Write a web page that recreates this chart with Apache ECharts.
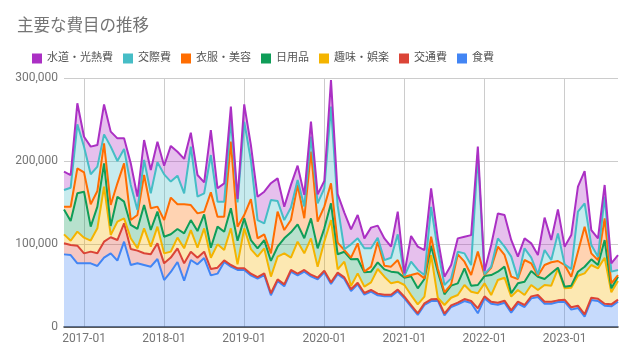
<!DOCTYPE html>
<html><head><meta charset="utf-8">
<script src="https://cdn.jsdelivr.net/npm/echarts@6/dist/echarts.min.js"></script>
<style>html,body{margin:0;padding:0;background:#fff}#c{width:634px;height:360px}</style>
</head><body><div id="c"></div>
<script>
const months = [
 '2016-10','2016-11','2016-12',
 '2017-01','2017-02','2017-03','2017-04','2017-05','2017-06','2017-07','2017-08','2017-09','2017-10','2017-11','2017-12',
 '2018-01','2018-02','2018-03','2018-04','2018-05','2018-06','2018-07','2018-08','2018-09','2018-10','2018-11','2018-12',
 '2019-01','2019-02','2019-03','2019-04','2019-05','2019-06','2019-07','2019-08','2019-09','2019-10','2019-11','2019-12',
 '2020-01','2020-02','2020-03','2020-04','2020-05','2020-06','2020-07','2020-08','2020-09','2020-10','2020-11','2020-12',
 '2021-01','2021-02','2021-03','2021-04','2021-05','2021-06','2021-07','2021-08','2021-09','2021-10','2021-11','2021-12',
 '2022-01','2022-02','2022-03','2022-04','2022-05','2022-06','2022-07','2022-08','2022-09','2022-10','2022-11','2022-12',
 '2023-01','2023-02','2023-03','2023-04','2023-05','2023-06','2023-07','2023-08','2023-09'
];
const yTicks = [0, 100000, 200000, 300000];

const food = [
 87500, 86700, 76700, 76700, 76700, 73500, 83500, 88800, 79900, 102800, 74700, 76700,
 74700, 72700, 81900, 56600, 66300, 78300, 55800, 80700, 75500, 83100, 62200, 64300,
 78300, 72700, 68700, 68700, 62200, 58200, 62600, 38200, 55400, 49000, 66700, 62200,
 66700, 61000, 57400, 65900, 51800, 63500, 57800, 43400, 51400, 39000, 42600, 38200,
 36900, 36900, 43000, 34500, 24500, 14500, 26500, 31300, 31700, 14100, 24100, 27300,
 31300, 28900, 16500, 34500, 28100, 26900, 29300, 17300, 28100, 24100, 34500, 36100,
 28100, 28100, 30100, 30500, 20900, 22900, 12400, 32500, 31300, 25700, 24900, 30500];
const transport = [
 13300, 12000, 21300, 12000, 14100, 15300, 19300, 19300, 24900, 22100, 19300, 15300,
 14100, 14900, 18900, 20100, 17300, 16500, 20900, 10000, 8000, 7600, 7600, 7200,
 2000, 2000, 2000, 2000, 2000, 2000, 2000, 2400, 2000, 2400, 2000, 2000,
 2000, 2000, 2000, 2000, 2000, 2000, 2000, 2000, 2000, 2000, 2000, 2000,
 2000, 2000, 2000, 2000, 2000, 2000, 2000, 2000, 2000, 2000, 2000, 2000,
 2400, 2400, 6000, 2400, 2400, 2400, 2400, 2800, 2400, 2400, 2400, 2400,
 2400, 2400, 2000, 2400, 2800, 2800, 2800, 2800, 2800, 2400, 2400, 2400];
const hobby = [
 10800, 5200, 16900, 18900, 13300, 30100, 66300, 2800, 22100, 6000, 12900, 2800,
 30100, 9200, 20100, 12000, 7200, 12900, 18100, 26100, 12000, 28100, 13700, 28100,
 12400, 44200, 4800, 48200, 29700, 24500, 30100, 20100, 27300, 37300, 14900, 38600,
 20100, 43800, 13300, 34900, 75100, 4000, 18900, 4000, 11200, 7600, 9200, 29700,
 21700, 13700, 9600, 14100, 12000, 10800, 8000, 53400, 1600, 10400, 9200, 9200,
 16900, 11200, 18100, 15700, 8000, 27300, 27700, 16500, 14100, 12000, 13700, 6000,
 20100, 19300, 37800, 13700, 23700, 36100, 49400, 39400, 36500, 55400, 14500, 22500];
const daily = [
 30100, 23700, 46200, 55400, 16900, 26100, 28100, 10800, 30100, 20100, 16100, 23300,
 28100, 20100, 18100, 20100, 20900, 10400, 18100, 12000, 20100, 16900, 12000, 21300,
 22100, 24100, 28500, 12000, 10800, 10000, 10000, 18900, 12000, 18100, 30500, 20900,
 18100, 24100, 22100, 16100, 20100, 18100, 12000, 32100, 17300, 17300, 12900, 8000,
 8800, 14100, 11200, 8800, 22500, 19300, 21300, 11200, 31300, 12900, 14500, 14100,
 20100, 7200, 10000, 8800, 24100, 10000, 13300, 4000, 8000, 16100, 16900, 16100,
 7200, 14900, 1600, 2000, 2400, 4800, 8000, 6800, 4000, 21300, 4800, 5200];
const clothes = [
 3200, 17300, 30100, 23300, 26900, 18900, 24100, 25300, 16100, 46200, 6000, 16900,
 36100, 26100, 6000, 20100, 44200, 29700, 34900, 18100, 21300, 3200, 66700, 12000,
 18100, 80300, 16900, 4000, 49400, 12000, 6800, 9200, 42200, 10000, 14900, 47400,
 24100, 80300, 32100, 26100, 24100, 14100, 2000, 2000, 18900, 800, 6000, 24900,
 4400, 6000, 14900, 1200, 1600, 18100, 800, 10800, 4000, 2400, 1600, 34900,
 8000, 12900, 40200, 1200, 8800, 30100, 14100, 20100, 5200, 26100, 9200, 1200,
 16900, 13300, 8000, 26100, 10800, 24100, 48200, 7200, 6000, 26100, 6000, 2000];
const social = [
 20100, 22900, 53000, 30900, 36100, 29300, 10800, 70300, 26900, 17300, 42200, 6000,
 18100, 18100, 53400, 55000, 19300, 34500, 13300, 70300, 20100, 22100, 45000, 18100,
 18100, 26100, 29300, 112400, 47000, 22100, 13300, 64300, 12900, 12000, 14900, 6000,
 14100, 18100, 22100, 22100, 92400, 44200, 1000, 16100, 6000, 28100, 22100, 4800,
 6800, 10800, 30900, 1200, 16100, 4000, 4000, 36100, 22100, 8800, 7200, 3200,
 10000, 12000, 116500, 800, 1200, 10000, 10000, 24100, 800, 14100, 6800, 1600,
 18100, 2800, 33300, 800, 9200, 48200, 28100, 10000, 4000, 26100, 14100, 6000];
const utilities = [
 22100, 15300, 25300, 12000, 33300, 26100, 36100, 18100, 27300, 12900, 26100, 16100,
 24100, 28100, 24900, 10400, 43000, 28900, 41400, 16900, 26100, 13300, 30100, 16100,
 22100, 16100, 4000, 20900, 18100, 28100, 38200, 20100, 27300, 16100, 27300, 17300,
 14100, 18100, 10800, 8800, 32100, 14100, 44200, 18100, 28100, 12000, 24900, 14500,
 26100, 13300, 27300, 2800, 30900, 28100, 30100, 22100, 14100, 10000, 16100, 16100,
 20100, 36100, 10000, 4000, 26100, 30100, 38200, 20100, 26100, 12000, 17300, 23300,
 39000, 24100, 28900, 21300, 41000, 30100, 39000, 18100, 22100, 14100, 10000, 18100];

const FONT = 'Roboto, Arial, "Noto Sans CJK JP", sans-serif';
const seriesDefs = [
  {name: '食費', data: food, color: '#4285F4'},
  {name: '交通費', data: transport, color: '#DB4437'},
  {name: '趣味・娯楽', data: hobby, color: '#F4B400'},
  {name: '日用品', data: daily, color: '#0F9D58'},
  {name: '衣服・美容', data: clothes, color: '#FF6D01'},
  {name: '交際費', data: social, color: '#46BDC6'},
  {name: '水道・光熱費', data: utilities, color: '#AB30C4'}
];
const isJan = (i, v) => String(v).endsWith('-01');

const chart = echarts.init(document.getElementById('c'), null, {renderer: 'canvas'});
chart.setOption({
  animation: false,
  textStyle: {fontFamily: FONT},
  title: {
    text: '主要な費目の推移', left: 12, top: 14,
    textStyle: {fontSize: 16.5, fontWeight: 'normal', color: '#757575', fontFamily: FONT}
  },
  legend: {
    data: seriesDefs.map(s => s.name).reverse(),
    left: 27, top: 48, icon: 'rect', itemWidth: 10, itemHeight: 10, itemGap: 10,
    textStyle: {fontSize: 11, color: '#555', fontFamily: FONT}
  },
  grid: {left: 64, right: 16, top: 78, bottom: 33, containLabel: false},
  xAxis: {
    type: 'category', boundaryGap: false, data: months,
    axisTick: {show: false},
    axisLine: {lineStyle: {color: '#333', width: 1.5}},
    axisLabel: {interval: isJan, color: '#757575', fontSize: 12, margin: 6, fontFamily: FONT},
    splitLine: {show: true, interval: isJan, lineStyle: {color: '#ccc'}}
  },
  yAxis: {
    type: 'value', min: yTicks[0], max: yTicks[yTicks.length - 1], interval: yTicks[1] - yTicks[0],
    axisLine: {show: false}, axisTick: {show: false},
    axisLabel: {formatter: v => v.toLocaleString('en-US'), color: '#757575', fontSize: 12, margin: 6, fontFamily: FONT},
    splitLine: {lineStyle: {color: '#ccc'}}
  },
  series: seriesDefs.map(s => ({
    name: s.name, type: 'line', stack: 'total', data: s.data,
    symbol: 'none', showSymbol: false,
    lineStyle: {width: 2, color: s.color},
    itemStyle: {color: s.color},
    areaStyle: {color: s.color, opacity: 0.3},
    emphasis: {disabled: true}
  }))
});
</script>
</body></html>
